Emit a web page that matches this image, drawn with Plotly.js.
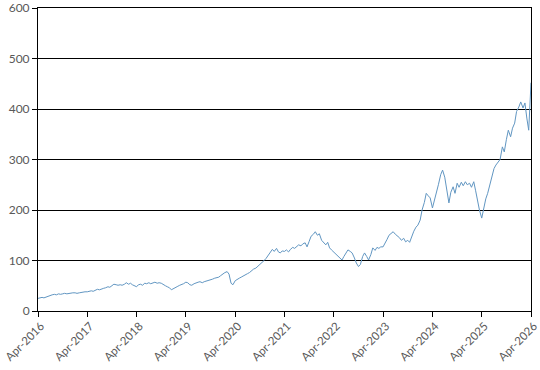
<!DOCTYPE html>
<html>
<head>
<meta charset="utf-8">
<script src="https://cdn.plot.ly/plotly-3.0.1.min.js"></script>
<style>html,body{margin:0;padding:0;background:#fff}#chart{width:540px;height:370px}</style>
</head>
<body>
<div id="chart"></div>
<script>
// Semi-monthly closing values (1st and 15th of each month), Apr of one year to Mar of next
const y2016 = [25,26,27,26,28,29,30,32,33,32,34,33,34,35,34,35,35,36,36,35,36,37,37,38];
const y2017 = [38,39,40,39,42,43,42,44,45,46,48,47,50,53,52,51,52,51,53,56,53,55,52,50];
const y2018 = [48,52,53,51,55,54,56,54,55,57,55,56,55,52,50,48,46,42,45,47,49,51,52,54];
const y2019 = [57,56,52,51,54,56,57,58,56,58,59,60,61,63,65,66,67,70,74,76,78,73,55,52];
const y2020 = [60,63,65,67,70,72,74,76,80,83,85,88,92,96,100,104,110,114,122,118,124,117,115,119];
const y2021 = [118,121,117,122,126,124,128,131,129,133,135,127,138,148,152,157,150,153,140,135,131,136,125,121];
const y2022 = [117,113,110,106,101,108,116,121,118,115,105,95,88,92,108,115,108,101,112,125,120,126,124,127];
const y2023 = [127,133,142,150,154,157,152,149,145,140,144,137,140,136,150,158,166,170,180,200,215,233,228,224];
const y2024 = [204,218,233,250,270,279,265,240,214,235,246,233,253,245,255,248,256,250,253,245,256,238,215,200];
const y2025 = [184,204,222,233,250,266,282,289,295,300,325,315,340,358,345,362,372,395,404,414,402,412,382,358];
const yEnd = [452];

const tickLabels = ['Apr-2016','Apr-2017','Apr-2018','Apr-2019','Apr-2020','Apr-2021','Apr-2022','Apr-2023','Apr-2024','Apr-2025','Apr-2026'];
const tickDates = ['2016-04-01','2017-04-01','2018-04-01','2019-04-01','2020-04-01','2021-04-01','2022-04-01','2023-04-01','2024-04-01','2025-04-01','2026-04-01'];
const yTicks = [0,100,200,300,400,500,600];

const values = [].concat(y2016,y2017,y2018,y2019,y2020,y2021,y2022,y2023,y2024,y2025,yEnd);
const dates = [];
for (let i = 0; i < values.length; i++) {
  const m = 3 + Math.floor(i / 2);
  const yr = 2016 + Math.floor(m / 12);
  const mo = (m % 12) + 1;
  const d = (i % 2 === 0) ? '01' : '15';
  dates.push(yr + '-' + String(mo).padStart(2,'0') + '-' + d);
}

const trace = {
  x: dates, y: values, type: 'scatter', mode: 'lines',
  line: {color: '#6196c2', width: 1},
  hoverinfo: 'skip', cliponaxis: false
};

const layout = {
  width: 540, height: 370,
  margin: {l: 38, r: 9, t: 8, b: 59},
  paper_bgcolor: '#ffffff', plot_bgcolor: '#ffffff',
  showlegend: false,
  font: {family: 'Lato, Open Sans, sans-serif', size: 12, color: '#595959'},
  xaxis: {
    type: 'date',
    range: ['2016-04-01','2026-04-01'],
    tickmode: 'array', tickvals: tickDates, ticktext: tickLabels,
    tickangle: -45,
    ticks: 'outside', ticklen: 5, tickcolor: '#000', tickwidth: 1,
    showline: true, linecolor: '#000', linewidth: 1, mirror: true,
    showgrid: false, zeroline: false,
    ticklabeloverflow: 'allow',
    ticklabelstandoff: -2,
    ticklabelshift: 3,
    tickfont: {family: 'Lato, Open Sans, sans-serif', size: 11.5, color: '#595959'}
  },
  yaxis: {
    range: [0, 600],
    tickmode: 'array', tickvals: yTicks, ticktext: yTicks.map(String),
    ticks: 'outside', ticklen: 5, tickcolor: '#000', tickwidth: 1,
    showline: true, linecolor: '#000', linewidth: 1, mirror: true,
    showgrid: true, gridcolor: '#000', gridwidth: 1,
    zeroline: false,
    ticklabeloverflow: 'allow',
    tickfont: {family: 'Lato, Open Sans, sans-serif', size: 12, color: '#595959'}
  }
};

Plotly.newPlot('chart', [trace], layout, {displayModeBar: false, staticPlot: true});
</script>
</body>
</html>
